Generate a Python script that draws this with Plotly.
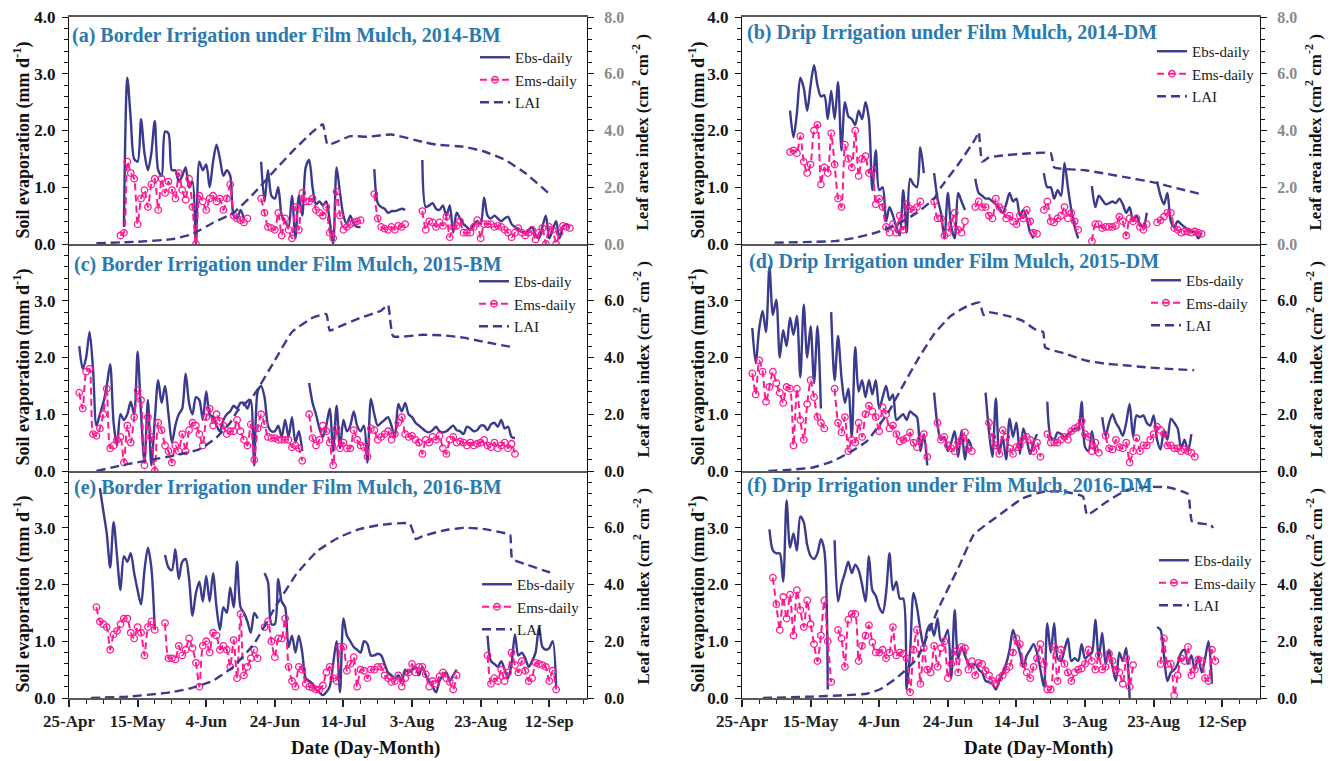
import plotly.graph_objects as go

W, H = 1330, 761
SERIF = "Liberation Serif"
NAVY = "#3a3a8e"
PINK = "#ff1a92"
TITLE_BLUE = "#2a7ab0"

# ---------------- data ----------------
# x values are days after 25-Apr; daily series are stored as runs of
# (first day, consecutive daily values); gaps between runs are missing days.
TICK_DAYS = [0, 20, 40, 60, 80, 100, 120, 140]
TICK_TEXT = ["25-Apr", "15-May", "4-Jun", "24-Jun", "14-Jul", "3-Aug", "23-Aug", "12-Sep"]

PANEL_TITLES = [
    "(a) Border Irrigation under Film Mulch, 2014-BM",
    "(b) Drip Irrigation under Film Mulch, 2014-DM",
    "(c) Border Irrigation under Film Mulch, 2015-BM",
    "(d) Drip Irrigation under Film Mulch, 2015-DM",
    "(e) Border Irrigation under Film Mulch, 2016-BM",
    "(f) Drip Irrigation under Film Mulch, 2016-DM",
]

# (a) 2014-BM
ebs_a = [
    (16, [0.3, 2.93, 2.2, 1.5, 1.45, 2.2, 1.6, 1.3, 1.6, 2.17, 1.3, 1.2, 1.98, 1.95, 1.3, 1.3, 1.1, 1.2,
          1.35, 1.0, 1.1, 0.0, 1.45, 1.3, 1.4, 1.0, 1.45, 1.75, 1.5, 1.2, 1.3, 1.2, 0.5, 0.45, 0.6, 0.45]),
    (56, [1.45, 0.75, 1.3, 0.85, 0.8, 1.0, 0.5, 0.4, 0.3, 0.85, 0.1, 0.85, 0.5, 1.35, 1.48, 1.0, 0.7, 0.75,
          0.68, 0.75, 0.4, 0.0, 1.35, 0.9, 0.5, 0.35, 0.5, 0.35, 0.3, 0.3]),
    (89, [1.32, 0.72, 0.65, 0.62, 0.55, 0.58, 0.58, 0.6, 0.62, 0.6]),
    (103, [1.48, 0.65, 0.68, 0.72, 0.62, 0.6, 0.68, 0.5, 0.68, 0.2, 0.55, 0.45, 0.35, 0.3, 0.25, 0.35, 0.4,
           0.35, 0.82, 0.5, 0.45, 0.5, 0.45, 0.4, 0.45, 0.48, 0.35, 0.3, 0.25, 0.22, 0.2, 0.25, 0.3, 0.15,
           0.1, 0.3, 0.5, 0.1, 0.25, 0.4, 0.1, 0.3, 0.35, 0.3]),
]
ems_a = [
    (15, [0.15, 0.2, 1.45, 1.25, 1.15, 0.35, 0.8, 0.95, 0.65, 1.05, 1.15, 0.6, 1.15, 0.9, 1.1, 0.95, 0.8,
          1.25, 0.95, 0.78, 1.15, 0.65, 0.0, 0.85, 0.75, 0.6, 0.8, 0.85, 0.75, 0.8, 0.6, 0.8, 1.05, 0.5,
          0.45, 0.42, 0.38, 0.45]),
    (56, [0.8, 0.55, 0.3, 0.28, 0.25, 0.55, 0.15, 0.45, 0.25, 0.1, 0.65, 0.25, 0.9, 0.75, 0.75, 0.8, 0.6,
          0.55, 0.5, 0.65, 0.2, 0.1, 0.92, 0.5, 0.25, 0.3, 0.35, 0.38, 0.4, 0.42]),
    (89, [0.88, 0.45, 0.3, 0.27, 0.25, 0.3, 0.25, 0.32, 0.3, 0.35]),
    (103, [0.58, 0.25, 0.4, 0.38, 0.3, 0.38, 0.32, 0.48, 0.12, 0.3, 0.32, 0.4, 0.2, 0.2, 0.2, 0.3, 0.42,
           0.1, 0.35, 0.35, 0.35, 0.3, 0.32, 0.3, 0.25, 0.2, 0.12, 0.2, 0.28, 0.2, 0.15, 0.2, 0.25, 0.08,
           0.2, 0.28, 0.0, 0.3, 0.25, 0.0, 0.2, 0.32, 0.3, 0.28]),
]
lai_a_day = [8, 20, 30, 36, 42, 48, 54, 60, 66, 71, 74, 75.4, 82, 87, 94, 103, 107, 115, 121, 127, 133, 140]
lai_a = [0.03, 0.08, 0.17, 0.35, 0.75, 1.1, 1.8, 2.6, 3.37, 3.95, 4.22, 3.5, 3.8, 3.78, 3.86, 3.6, 3.5,
         3.43, 3.26, 2.97, 2.5, 1.77]

# (b) 2014-DM
ebs_b = [
    (14, [2.35, 1.88, 2.3, 2.93, 2.75, 2.35, 2.8, 3.15, 2.8, 2.6, 2.62, 2.2, 2.7, 2.2, 2.85, 1.65, 2.5, 2.25,
          2.2, 2.1, 2.35, 2.2, 2.5, 2.2, 0.95, 1.65, 0.95, 1.0, 0.4, 0.65, 0.5, 0.3, 0.15, 0.95, 0.2, 1.15,
          1.05, 1.0, 1.7, 1.25]),
    (56, [1.25, 0.8, 0.55, 0.1, 0.9, 0.3, 0.1, 0.9, 0.75, 0.6]),
    (68, [1.15, 0.9, 0.85, 0.8, 0.8, 0.75, 0.7, 0.62, 0.55, 0.7, 0.9, 0.75, 0.8, 0.5, 0.6, 0.45, 0.2, 0.1]),
    (88, [1.25, 1.0, 1.0, 0.8, 0.95, 0.85, 1.43, 1.0, 0.6, 0.3, 0.1]),
    (102, [1.02, 0.65, 0.85, 0.78, 0.7, 0.72, 0.75, 0.72, 0.8, 0.7, 0.55, 0.65, 0.4, 0.5, 0.35, 0.3, 0.55]),
    (121, [1.1, 0.85, 0.7, 0.9, 0.4, 0.3, 0.4, 0.35, 0.3, 0.25, 0.22, 0.2, 0.1, 0.2]),
]
ems_b = [
    (14, [1.62, 1.65, 1.6, 1.9, 1.45, 1.25, 1.4, 2.0, 2.1, 1.05, 1.35, 1.25, 1.95, 1.4, 0.8, 0.65, 1.75, 1.5,
          1.35, 2.0, 1.2, 1.5, 1.55, 1.25, 1.3, 0.7, 0.8, 0.65, 0.3, 0.2, 0.35, 0.2, 0.5, 0.25, 0.7, 0.62,
          0.6, 0.65, 0.75]),
    (56, [0.75, 0.45, 0.45, 0.15, 0.2, 0.35, 0.55, 0.25, 0.2, 0.4]),
    (68, [0.65, 0.75, 0.65, 0.65, 0.5, 0.45, 0.8, 0.65, 0.6, 0.45, 0.5, 0.4, 0.35, 0.5, 0.45, 0.6, 0.4, 0.2,
          0.18]),
    (88, [0.6, 0.75, 0.4, 0.38, 0.45, 0.5, 0.65, 0.45, 0.55, 0.4, 0.25]),
    (102, [0.05, 0.35, 0.35, 0.28, 0.3, 0.3, 0.3, 0.32, 0.48, 0.4, 0.15, 0.45, 0.4, 0.45, 0.3, 0.25, 0.35]),
    (121, [0.38, 0.42, 0.48, 0.55, 0.55, 0.28, 0.25, 0.2, 0.22, 0.22, 0.2, 0.22, 0.2, 0.18]),
]
lai_b_day = [9.5, 27, 33, 39, 45, 51, 56, 58, 63, 68, 69, 70, 72, 76, 82, 90, 91, 100, 112, 121, 124, 134]
lai_b = [0.05, 0.1, 0.22, 0.4, 0.68, 1.1, 1.6, 2.0, 2.8, 3.7, 3.95, 2.9, 3.05, 3.12, 3.18, 3.2, 2.7, 2.6,
         2.35, 2.15, 2.05, 1.75]

# (c) 2015-BM
ebs_c = [
    (3, [2.2, 1.8, 2.0, 2.45, 1.8, 0.8, 1.0, 1.2, 1.5, 1.88, 0.85, 0.45, 1.0, 0.9, 1.0, 1.22, 1.0, 2.1, 1.0,
         0.15, 1.25, 0.1, 0.9, 1.6, 1.2, 1.5, 1.0, 0.5, 0.8, 1.0, 1.1, 1.72, 1.2, 1.0, 1.3, 1.25, 0.9, 1.4,
         1.0, 0.95, 0.8, 0.7, 0.9, 1.0, 1.05, 1.15, 1.1, 1.2, 1.2, 1.1, 1.25, 0.1, 1.4, 1.5, 1.3, 0.8, 0.7,
         0.7, 0.8, 0.6, 0.9, 0.6, 0.95, 0.5, 0.7, 0.35]),
    (70, [1.55, 1.2, 1.0, 0.75, 0.6, 0.8, 1.1, 0.35, 1.15, 0.4, 0.9, 0.7, 0.8, 1.05, 0.8, 0.7, 0.8, 0.15,
          1.27, 1.0, 0.8, 0.85, 0.9, 0.95, 0.8, 0.6, 1.18, 1.05, 1.2, 1.0, 0.95, 0.85, 0.8, 0.75, 0.7, 0.68,
          0.72, 0.78, 0.7, 0.68, 0.7, 0.75, 0.8, 0.72, 0.7, 0.65, 0.78, 0.75, 0.7, 0.72, 0.8, 0.8, 0.72,
          0.82, 0.85, 0.78, 0.9, 0.75, 0.78, 0.6, 0.58]),
]
ems_c = [
    (3, [1.38, 1.1, 1.75, 1.8, 0.65, 0.62, 0.75, 1.0, 1.45, 0.4, 0.45, 0.55, 0.6, 0.15, 0.8, 0.5, 0.95, 1.42,
         1.25, 0.1, 0.95, 0.6, 0.0, 0.85, 0.72, 0.45, 0.35, 0.15, 0.45, 0.35, 0.65, 0.35, 0.72, 0.85, 0.8,
         0.65, 0.45, 0.95, 1.1, 0.8, 1.0, 0.88, 0.8, 0.65, 0.7, 0.7, 0.9, 0.7, 0.55, 0.45, 0.82, 0.2, 0.75,
         1.0, 0.82, 0.6, 0.58, 0.58, 0.55, 0.55, 0.55, 0.55, 0.42, 0.45, 0.4, 0.18]),
    (70, [1.0, 0.58, 0.45, 0.55, 0.8, 0.7, 0.5, 0.1, 0.75, 0.4, 0.5, 0.4, 0.4, 0.72, 0.55, 0.45, 0.42, 0.25,
          0.75, 0.72, 0.55, 0.6, 0.65, 0.7, 0.55, 0.65, 0.85, 0.95, 0.65, 0.6, 0.62, 0.55, 0.5, 0.3, 0.55,
          0.5, 0.6, 0.55, 0.62, 0.4, 0.3, 0.55, 0.6, 0.5, 0.52, 0.5, 0.45, 0.5, 0.45, 0.48, 0.5, 0.55, 0.45,
          0.42, 0.5, 0.4, 0.45, 0.5, 0.4, 0.48, 0.3]),
]
lai_c_day = [8, 17, 30, 38, 43, 47, 49, 54, 60, 65, 71, 75, 76, 79, 85, 91, 93, 94.5, 103, 109, 115, 121, 130]
lai_c = [0.0, 0.24, 0.53, 0.76, 1.18, 1.7, 2.1, 2.7, 3.9, 4.9, 5.4, 5.53, 4.95, 5.1, 5.4, 5.65, 5.85, 4.75,
         4.8, 4.78, 4.7, 4.55, 4.35]

# (d) 2015-DM
ebs_d = [
    (3, [2.52, 1.9, 2.5, 2.82, 2.45, 3.6, 2.75, 3.02, 2.0, 2.48, 2.2, 2.7, 2.4, 2.73, 1.65, 2.93, 2.0, 2.55,
         1.55, 2.55, 1.1]),
    (26, [2.8, 1.6, 2.38, 1.65, 1.2, 1.45, 0.6, 2.18, 1.4, 1.6, 1.3, 1.6, 1.35, 1.6, 1.1, 1.3, 1.5, 1.25,
          1.35, 0.9, 0.95, 1.0, 0.9, 1.05, 1.0, 0.95, 0.35, 0.65, 0.1]),
    (56, [1.38, 0.8, 0.55, 0.6, 0.35, 0.5, 0.7, 0.25, 0.72, 0.2, 0.55, 0.4]),
    (71, [1.38, 0.7, 0.25, 1.28, 0.3, 0.6, 0.2, 0.92, 0.6, 0.85, 0.3, 0.75, 0.55, 0.3, 0.5, 0.65]),
    (89, [1.22, 0.6, 0.55, 0.68, 0.65, 0.6, 0.65, 0.7, 0.75, 0.72, 1.22, 0.42, 0.35, 0.7, 0.3]),
    (105, [0.95, 0.62, 0.85, 1.0, 0.85, 0.75, 0.62, 0.85, 1.18, 0.6, 0.98, 0.95, 0.98, 0.85, 0.8, 0.98, 0.55,
           0.38, 0.72, 0.55, 0.92, 0.85, 0.75, 0.4, 0.55, 0.35, 0.65]),
]
ems_d = [
    (3, [1.72, 1.35, 1.95, 1.75, 1.22, 1.48, 1.75, 1.55, 1.38, 1.2, 1.48, 1.45, 0.45, 1.45, 0.9, 0.55, 1.18,
         1.6, 1.3, 0.95, 0.85, 0.75]),
    (27, [1.45, 0.85, 0.68, 0.95, 0.35, 0.55, 0.5, 0.85, 0.6, 1.0, 1.15, 1.05, 0.95, 0.7, 1.12, 1.0, 0.75,
          0.8, 0.65, 0.52, 0.55, 0.58, 0.68, 0.5, 0.42, 0.55, 0.65, 0.25]),
    (57, [0.85, 0.55, 0.6, 0.45, 0.4, 0.35, 0.5, 0.55, 0.68, 0.4, 0.35]),
    (72, [0.85, 0.6, 0.45, 0.3, 0.72, 0.6, 0.4, 0.3, 0.42, 0.45, 0.55, 0.6, 0.55, 0.35, 0.5, 0.25]),
    (89, [0.65, 0.5, 0.5, 0.5, 0.55, 0.6, 0.55, 0.7, 0.75, 0.78, 0.88, 0.65, 0.6, 0.35, 0.5, 0.32]),
    (106, [0.62, 0.4, 0.38, 0.55, 0.42, 0.4, 0.5, 0.15, 0.35, 0.58, 0.35, 0.45, 0.45, 0.55, 0.65, 0.78, 0.72,
           0.65, 0.45, 0.45, 0.4, 0.4, 0.35, 0.38, 0.35, 0.32, 0.25]),
]
lai_d_day = [7.7, 14.4, 20.5, 26.6, 32.8, 36.4, 42.5, 46.2, 51.1, 56, 60.9, 65.8, 69.2, 70.4, 71.9, 78,
             81.7, 85.3, 87.8, 88.4, 93.9, 100, 106.1, 112.2, 118.3, 124.4, 131.8]
lai_d = [0.0, 0.05, 0.12, 0.35, 0.76, 1.05, 2.04, 2.85, 3.9, 4.83, 5.47, 5.82, 5.94, 5.5, 5.6, 5.45, 5.3,
         5.0, 4.9, 4.35, 4.15, 3.9, 3.78, 3.72, 3.65, 3.6, 3.55]

# (e) 2016-BM
ebs_e = [
    (9, [3.7, 3.3, 2.9, 2.3, 3.1, 2.5, 1.9, 2.5, 2.4, 2.55, 2.2, 1.9, 1.65, 2.25, 2.65, 2.3, 1.2]),
    (28, [2.52, 2.3, 2.25, 2.62, 2.1, 2.4, 2.45, 2.1, 1.45, 1.85, 2.05, 1.7, 2.15, 1.7, 2.2, 1.6, 1.2, 1.6,
          1.5, 1.95, 1.6, 2.4, 1.6, 1.5, 1.35, 1.15, 1.5, 1.4]),
    (57, [2.2, 2.05, 1.3, 1.3, 2.1, 1.7, 1.6, 0.9, 1.1, 0.8, 1.1, 0.8, 0.35, 0.3, 0.25, 0.15, 0.1, 0.05, 0.1,
          0.2, 0.6, 1.0, 0.1, 1.4, 1.1, 1.0, 0.9, 0.85, 0.8, 1.0, 0.95, 0.75, 0.75, 0.78, 0.75, 0.6, 0.45,
          0.4, 0.35, 0.4, 0.3, 0.5, 0.45, 0.5, 0.55, 0.4, 0.55, 0.4, 0.3, 0.2, 0.1, 0.3, 0.4, 0.45, 0.3,
          0.4, 0.5]),
    (122, [1.1, 0.65, 0.6, 0.55, 0.65, 0.5, 0.35, 0.6, 1.12, 0.75, 0.8, 0.7, 0.55, 0.65, 0.8, 1.25, 0.9,
           0.85, 0.88, 1.0, 0.2]),
]
ems_e = [
    (8, [1.6, 1.35, 1.3, 1.25, 0.85, 1.12, 1.18, 1.3, 1.4, 1.4, 1.15, 1.05, 1.25, 1.15, 0.75, 1.25, 1.35,
         1.2]),
    (28, [1.32, 0.7, 0.7, 0.68, 0.92, 0.75, 0.85, 1.05, 0.88, 0.62, 0.2, 0.92, 1.0, 0.8, 1.15, 1.1, 0.85,
          0.92, 0.85, 0.55, 1.02, 0.35, 1.48, 0.4, 0.55, 0.7, 0.85, 0.7]),
    (57, [1.25, 1.35, 1.0, 0.72, 1.05, 1.05, 1.4, 0.55, 0.3, 0.2, 0.55, 0.5, 0.25, 0.2, 0.18, 0.15, 0.15,
          0.22, 0.45, 0.55, 0.35, 0.3, 0.9, 0.9, 0.48, 0.6, 0.72, 0.2, 0.5, 0.48, 0.35, 0.5, 0.5, 0.55, 0.55,
          0.4, 0.35, 0.28, 0.3, 0.4, 0.2, 0.35, 0.45, 0.6, 0.45, 0.55, 0.55, 0.42, 0.2, 0.3, 0.25, 0.38,
          0.45, 0.35, 0.28, 0.15, 0.4]),
    (122, [0.75, 0.25, 0.35, 0.3, 0.5, 0.3, 0.45, 0.8, 0.58, 0.45, 0.65, 0.48, 0.3, 0.35, 0.62, 0.6, 0.58,
           0.55, 0.3, 0.48, 0.15]),
]
lai_e_day = [6.4, 17.4, 29.6, 35.7, 41.8, 47.9, 54, 60.1, 66.3, 72.4, 78.5, 84.6, 90.7, 99.3, 101.1, 103,
             109, 115.2, 121.3, 127.4, 128.6, 129.2, 133.5, 139.6, 140.8]
lai_e = [0.0, 0.05, 0.2, 0.35, 0.6, 1.1, 1.92, 3.2, 4.37, 5.18, 5.65, 5.95, 6.1, 6.15, 5.6, 5.7, 5.9, 6.0,
         5.95, 5.8, 5.75, 4.9, 4.7, 4.45, 4.43]

# (f) 2016-DM
ebs_f = [
    (8, [2.97, 2.6, 2.55, 2.55, 2.05, 3.48, 2.65, 2.9, 2.6, 3.2, 3.1, 2.7, 2.5, 2.45, 2.55, 2.8, 2.6, 0.15]),
    (27, [2.78, 1.7, 2.0, 2.2, 2.4, 2.2, 2.35, 2.25, 2.0, 1.7, 2.5, 1.9, 1.8, 1.6, 1.5, 1.85, 2.55, 1.9, 2.05,
          1.75, 1.75, 0.15, 0.8, 1.85, 1.6, 1.2, 0.9, 1.2, 1.3, 1.1, 1.4, 1.0, 1.05, 1.2, 0.35, 1.55, 0.7,
          0.9, 0.75, 0.6, 0.55, 0.6, 0.5, 0.45, 0.3, 0.28, 0.25, 0.15, 0.3, 0.45, 0.6, 0.85, 1.2, 1.0, 0.8,
          0.55, 0.75, 0.85, 0.95, 0.8, 0.5, 0.2, 1.32, 0.8, 1.32, 0.7, 0.65, 0.85, 1.05, 0.65, 0.7, 0.65,
          0.95, 0.7, 0.75, 0.8, 1.38, 0.7, 1.15, 0.6, 0.85, 0.55, 0.3, 0.8, 0.65, 0.88, 0.0]),
    (121, [1.25, 1.2, 0.75, 0.3, 0.45, 0.5, 0.6, 0.8, 0.85, 0.6, 0.75, 0.5, 0.72, 0.45, 0.7, 1.0, 0.25]),
]
ems_f = [
    (9, [2.12, 1.65, 1.2, 1.78, 1.4, 1.82, 1.1, 1.9, 1.55, 1.25, 1.72, 1.3, 0.95, 0.65, 1.1, 1.72, 1.0,
         0.28]),
    (28, [1.2, 1.05, 0.55, 1.38, 1.48, 1.48, 0.65, 0.92, 1.1, 1.28, 0.98, 0.8, 0.8, 0.85, 0.7, 0.8, 1.25,
          0.75, 0.8, 0.78, 0.7, 0.1, 0.85, 1.2, 0.25, 0.88, 0.5, 0.45, 0.92, 0.55, 0.88, 1.0, 0.35, 0.6,
          0.82, 0.45, 0.9, 0.88, 0.5, 0.65, 0.4, 0.62, 0.6, 0.48, 0.4, 0.3, 0.25, 0.35, 0.4, 0.5, 0.55, 0.8,
          1.05, 0.95, 0.6, 0.45, 0.35, 0.55, 0.7, 0.95, 0.6, 0.15, 0.15, 0.9, 0.3, 0.85, 0.6, 0.45, 0.3,
          0.45, 0.5, 0.52, 0.6, 0.85, 0.65, 0.5, 0.75, 0.5, 0.55, 0.78, 0.65, 0.5, 0.45, 0.25, 0.7, 0.2,
          0.58]),
    (122, [0.6, 1.05, 0.6, 0.6, 0.05, 0.4, 0.7, 0.65, 0.9, 0.4, 0.5, 0.68, 0.65, 0.35, 0.3, 0.85, 0.65]),
]
lai_f_day = [6.1, 20.5, 36.4, 40.1, 45, 51.1, 57.2, 63.3, 67.6, 75.6, 81.7, 87.8, 93.9, 99.4, 100.6, 106.1,
             112.2, 118.3, 124.4, 130, 131.2, 136.7, 137.3]
lai_f = [0.0, 0.05, 0.15, 0.3, 0.7, 1.4, 3.14, 4.65, 5.76, 6.5, 7.03, 7.27, 7.27, 7.1, 6.45, 6.9, 7.33,
         7.44, 7.42, 7.19, 6.22, 6.1, 5.99]

PANELS = [
    (ebs_a, ems_a, lai_a_day, lai_a),
    (ebs_b, ems_b, lai_b_day, lai_b),
    (ebs_c, ems_c, lai_c_day, lai_c),
    (ebs_d, ems_d, lai_d_day, lai_d),
    (ebs_e, ems_e, lai_e_day, lai_e),
    (ebs_f, ems_f, lai_f_day, lai_f),
]


def runs_to_xy(runs):
    """Expand (first day, daily values) runs into x/y lists with breaks."""
    xs, ys = [], []
    for first, vals in runs:
        if xs:
            xs.append(None)
            ys.append(None)
        xs.extend(first + k for k in range(len(vals)))
        ys.extend(vals)
    return xs, ys


# ---------------- layout geometry (pixels) ----------------
COLS = [(69, 587), (742, 1260)]             # left / right plot edges
ROWS = [(17, 244), (244, 471), (471, 698)]  # top / bottom plot edges
LEGEND_POS = [(515, 58), (1192, 52), (514, 282), (1186, 281), (517, 585), (1194, 561)]
TITLE_POS = [(70, 36), (745, 32), (72, 264), (747, 261), (72, 487), (745, 485)]


def fx(p):
    return p / W


def fy(p):
    return 1 - p / H


fig = go.Figure()
layout = {}
annotations = []

tick_font = dict(family=SERIF, size=17, color="#111111", weight="bold")

for i, (ebs, ems, lai_day, lai) in enumerate(PANELS):
    row, col = divmod(i, 2)
    x0, x1 = COLS[col]
    y0, y1 = ROWS[row]
    n = i + 1
    xname = "xaxis" if n == 1 else f"xaxis{n}"
    xref = "x" if n == 1 else f"x{n}"
    yl_n, yr_n = 2 * i + 1, 2 * i + 2
    yl_name = "yaxis" if yl_n == 1 else f"yaxis{yl_n}"
    yl_ref = "y" if yl_n == 1 else f"y{yl_n}"
    yr_name, yr_ref = f"yaxis{yr_n}", f"y{yr_n}"
    leg = "legend" if n == 1 else f"legend{n}"
    bottom = row == 2

    ex, ey = runs_to_xy(ebs)
    mx, my = runs_to_xy(ems)

    fig.add_trace(go.Scatter(
        x=ex, y=ey, mode="lines", name="Ebs-daily", xaxis=xref, yaxis=yl_ref, legend=leg,
        line=dict(color=NAVY, width=2.4, shape="spline", smoothing=0.8), connectgaps=False))
    fig.add_trace(go.Scatter(
        x=mx, y=my, mode="lines+markers", name="Ems-daily", xaxis=xref, yaxis=yl_ref, legend=leg,
        line=dict(color=PINK, width=2.0, dash="7px,4px", shape="spline", smoothing=0.6),
        marker=dict(symbol="circle-open", size=6.5, color=PINK, line=dict(width=1.3, color=PINK)),
        connectgaps=False))
    fig.add_trace(go.Scatter(
        x=lai_day, y=lai, mode="lines", name="LAI", xaxis=xref, yaxis=yr_ref, legend=leg,
        line=dict(color=NAVY, width=2.4, dash="9px,5px", shape="spline", smoothing=0.4)))

    xa = dict(
        domain=[fx(x0), fx(x1)], anchor=yl_ref, range=[0, 151], automargin=False,
        showline=True, linecolor="#595959", linewidth=1.8, mirror=(row == 0),
        showgrid=False, zeroline=False,
        tickmode="array", tickvals=TICK_DAYS, ticktext=TICK_TEXT,
        showticklabels=bottom, tickfont=dict(family=SERIF, size=17, color="#222222", weight="bold"),
    )
    if bottom:
        xa.update(ticks="outside", ticklen=7, tickwidth=1.5, tickcolor="#222222",
                  minor=dict(tickmode="linear", tick0=0, dtick=5, ticks="outside", ticklen=4,
                             tickwidth=1.2, tickcolor="#222222"))
    layout[xname] = xa

    left_vals = [0, 1, 2, 3, 4] if row == 0 else [0, 1, 2, 3]
    right_vals = [0, 2, 4, 6, 8] if row == 0 else [0, 2, 4, 6]
    layout[yl_name] = dict(
        domain=[fy(y1), fy(y0)], anchor=xref, range=[0, 4], automargin=False,
        showline=True, linecolor="#111111", linewidth=1.2, showgrid=False, zeroline=False,
        tickmode="array", tickvals=left_vals, tickformat=".1f",
        ticks="outside", ticklen=6, tickwidth=1.3, tickcolor="#111111", tickfont=tick_font,
        ticklabelstandoff=3,
        minor=dict(tickmode="linear", tick0=0, dtick=0.2, ticks="outside", ticklen=3.5,
                   tickwidth=1, tickcolor="#111111"),
    )
    right_color = "#8a8a8a" if row == 0 else "#111111"
    layout[yr_name] = dict(
        overlaying=yl_ref, side="right", anchor=xref, range=[0, 8], automargin=False,
        showline=True, linecolor="#111111", linewidth=1.2, showgrid=False, zeroline=False,
        tickmode="array", tickvals=right_vals, tickformat=".1f",
        ticks="outside", ticklen=6, tickwidth=1.3, tickcolor="#111111",
        tickfont=dict(family=SERIF, size=16, color=right_color, weight="bold"),
        ticklabelstandoff=7,
        minor=dict(tickmode="linear", tick0=0, dtick=0.4, ticks="outside", ticklen=3.5,
                   tickwidth=1, tickcolor="#111111"),
    )

    lx, ly = LEGEND_POS[i]
    layout[leg] = dict(
        x=fx(lx - 40), y=fy(ly - 17), xanchor="left", yanchor="top",
        bgcolor="rgba(0,0,0,0)", borderwidth=0, tracegroupgap=0,
        font=dict(family=SERIF, size=15, color="#1a1a1a"),
    )

    tx, ty = TITLE_POS[i]
    annotations.append(dict(
        text=f"<b>{PANEL_TITLES[i]}</b>", x=fx(tx), y=fy(ty), xref="paper", yref="paper",
        xanchor="left", yanchor="middle", showarrow=False,
        font=dict(family=SERIF, size=20, color=TITLE_BLUE)))

    # axis titles
    yc = (y0 + y1) / 2 + 10
    left_title_x = 22 if col == 0 else 697
    right_title_x = 641 if col == 0 else 1314
    annotations.append(dict(
        text="<b>Soil evaporation (mm d<sup>-1</sup>)</b>", x=fx(left_title_x), y=fy(yc),
        xref="paper", yref="paper", xanchor="center", yanchor="middle", textangle=-90,
        showarrow=False, font=dict(family=SERIF, size=18, color="#111111")))
    annotations.append(dict(
        text="<b>Leaf area index (cm<sup>2</sup> cm<sup>-2</sup> )</b>", x=fx(right_title_x),
        y=fy(yc - 8), xref="paper", yref="paper", xanchor="center", yanchor="middle",
        textangle=-90, showarrow=False, font=dict(family=SERIF, size=17, color="#111111")))

for cx in (365, 1038):
    annotations.append(dict(
        text="<b>Date (Day-Month)</b>", x=fx(cx), y=fy(748), xref="paper", yref="paper",
        xanchor="center", yanchor="middle", showarrow=False,
        font=dict(family=SERIF, size=19, color="#111111")))

fig.update_layout(
    width=W, height=H, margin=dict(l=0, r=0, t=0, b=0, autoexpand=False),
    paper_bgcolor="white", plot_bgcolor="rgba(0,0,0,0)",
    showlegend=True, annotations=annotations, **layout,
)

fig.write_html("out.html")
